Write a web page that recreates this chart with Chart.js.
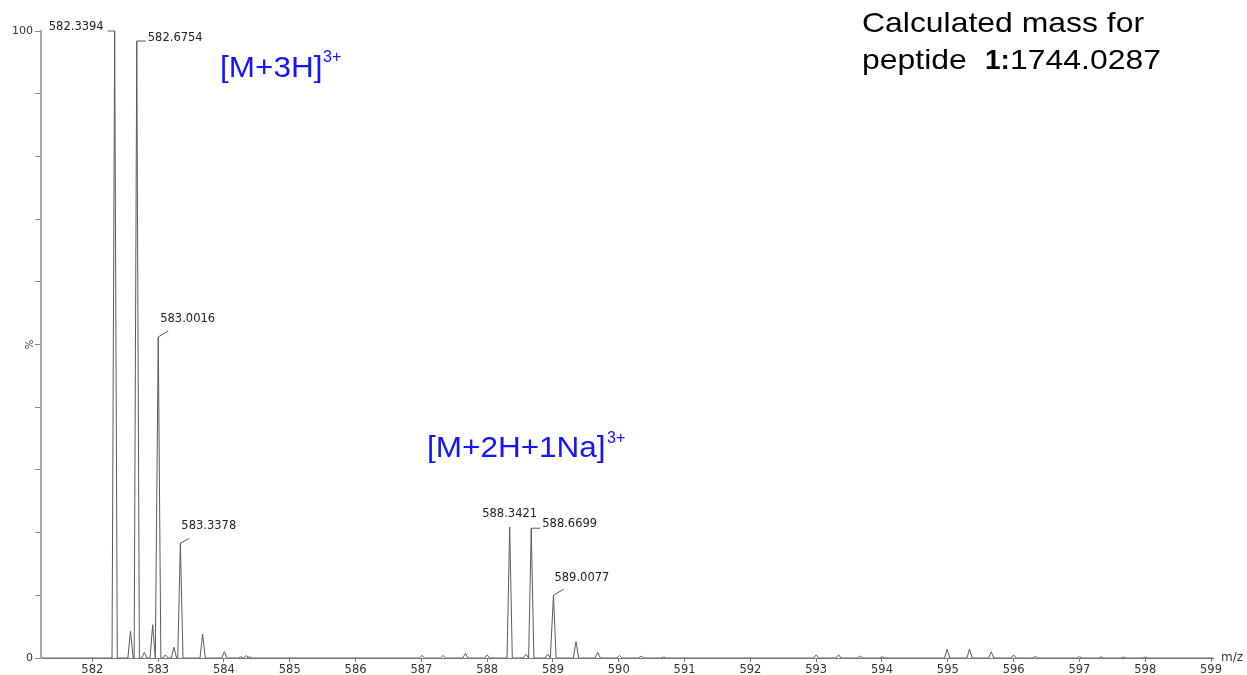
<!DOCTYPE html>
<html>
<head>
<meta charset="utf-8">
<script src="https://cdn.jsdelivr.net/npm/chart.js@4.4.0/dist/chart.umd.min.js"></script>
<style>
  body { margin: 0; background: #fff; }
  canvas { display: block; }
</style>
</head>
<body>
<canvas id="myChart" width="1247" height="675"></canvas>
<script>
// peak centroids (m/z) and relative intensity (%)
const peakMz = [
  582.3394, 582.58, 582.6754, 582.79, 582.917, 583.0016, 583.11, 583.24, 583.3378,
  583.676, 584.006, 584.26, 584.34, 584.39,
  587.01, 587.33, 587.67, 588.0, 588.3421, 588.59, 588.6699, 588.92, 589.0077,
  589.35, 589.68, 590.01, 590.34, 590.68,
  593.0, 593.34, 593.67, 594.0, 594.99, 595.33, 595.66, 596.0, 596.33,
  597.0, 597.33, 597.67, 598.0
];
const peakIntensity = [
  100, 4.3, 98.4, 0.9, 5.3, 51.2, 0.5, 1.7, 18.3,
  3.8, 1.0, 0.2, 0.4, 0.2,
  0.4, 0.4, 0.75, 0.5, 20.9, 0.6, 20.7, 0.6, 10.0,
  2.6, 0.9, 0.4, 0.3, 0.15,
  0.5, 0.5, 0.3, 0.2, 1.4, 1.4, 1.0, 0.5, 0.25,
  0.25, 0.2, 0.15, 0.15
];
// labelled peaks
const labelMz = [582.3394, 582.6754, 583.0016, 583.3378, 588.3421, 588.6699, 589.0077];
const labelText = ['582.3394', '582.6754', '583.0016', '583.3378', '588.3421', '588.6699', '589.0077'];

const xTicks = [582, 583, 584, 585, 586, 587, 588, 589, 590, 591, 592, 593, 594, 595, 596, 597, 598, 599];
const yTicks = [0, 10, 20, 30, 40, 50, 60, 70, 80, 90, 100];

const xMin = 581.22, xMax = 599.03;
const halfWidth = 0.04;

// build profile line from the centroids (triangle per peak)
const profile = [{x: xMin, y: 0}];
peakMz.forEach((mz, i) => {
  profile.push({x: mz - halfWidth, y: 0});
  profile.push({x: mz, y: peakIntensity[i]});
  profile.push({x: mz + halfWidth, y: 0});
});
profile.push({x: xMax, y: 0});

// label placement (pixel offsets from the peak top)
const labelStyle = [
  {lead: [-7, 0], tx: -11, ty: -1.5, align: 'right'},
  {lead: [9, 0], tx: 11, ty: 0, align: 'left'},
  {lead: [10, -6], tx: 2, ty: -14.5, align: 'left'},
  {lead: [9, -5], tx: 1, ty: -14.5, align: 'left'},
  {lead: null, tx: 0, ty: -10, align: 'center'},
  {lead: [9, 0], tx: 11, ty: -1, align: 'left'},
  {lead: [10, -6], tx: 1, ty: -14.5, align: 'left'}
];

// draw text stretched horizontally
function wideText(ctx, text, x, y, sx) {
  ctx.save();
  ctx.translate(x, y);
  ctx.scale(sx, 1);
  ctx.fillText(text, 0, 0);
  ctx.restore();
}

const annotations = {
  id: 'annotations',
  afterDraw(chart) {
    const ctx = chart.ctx;
    const xs = chart.scales.x, ys = chart.scales.y;
    ctx.save();

    // peak labels
    ctx.font = '11.5px "DejaVu Sans"';
    ctx.fillStyle = '#222';
    ctx.strokeStyle = '#555';
    ctx.lineWidth = 1;
    ctx.textBaseline = 'alphabetic';
    labelMz.forEach((mz, i) => {
      const idx = peakMz.indexOf(mz);
      const px = xs.getPixelForValue(mz);
      const py = ys.getPixelForValue(peakIntensity[idx]);
      const s = labelStyle[i];
      if (s.lead) {
        ctx.beginPath();
        ctx.moveTo(px, py);
        ctx.lineTo(px + s.lead[0], py + s.lead[1]);
        ctx.stroke();
      }
      ctx.textAlign = s.align;
      ctx.fillText(labelText[i], px + s.tx, py + s.ty);
    });

    // y unit, rotated
    ctx.save();
    ctx.translate(30, ys.getPixelForValue(50));
    ctx.rotate(-Math.PI / 2);
    ctx.textAlign = 'center';
    ctx.textBaseline = 'middle';
    ctx.font = '10px "DejaVu Sans"';
    ctx.fillStyle = '#333';
    ctx.fillText('%', 0, 0);
    ctx.restore();

    // axis unit
    ctx.textAlign = 'left';
    ctx.font = '12px "DejaVu Sans"';
    ctx.fillStyle = '#333';
    ctx.fillText('m/z', 1221, 661);

    // charge-state annotations
    ctx.fillStyle = '#1414ff';
    ctx.font = '30px "Liberation Sans"';
    wideText(ctx, '[M+3H]', 220, 77, 1.05);
    wideText(ctx, '[M+2H+1Na]', 427, 457, 1.05);
    ctx.font = '16px "Liberation Sans"';
    ctx.fillText('3+', 323, 62);
    ctx.fillText('3+', 607, 443);

    // calculated mass
    ctx.fillStyle = '#000';
    ctx.font = '28px "Liberation Sans"';
    wideText(ctx, 'Calculated mass for', 862, 32, 1.14);
    wideText(ctx, 'peptide', 862, 69, 1.14);
    wideText(ctx, '1744.0287', 1010, 69, 1.14);
    ctx.font = 'bold 28px "Liberation Sans"';
    wideText(ctx, '1:', 985, 69, 1.0);

    ctx.restore();
  }
};

const data = {
  datasets: [{
    label: 'spectrum',
    data: profile,
    borderColor: '#5a5a5a',
    borderWidth: 1,
    pointRadius: 0,
    tension: 0,
    fill: false
  }]
};

const config = {
  type: 'line',
  data,
  options: {
    responsive: false,
    animation: false,
    parsing: false,
    layout: { padding: { top: 31, right: 34, left: 0, bottom: 0 } },
    plugins: { legend: { display: false }, tooltip: { enabled: false } },
    scales: {
      x: {
        type: 'linear',
        min: xMin,
        max: xMax,
        afterBuildTicks: scale => { scale.ticks = xTicks.map(v => ({value: v})); },
        afterFit: scale => { scale.height = 17; },
        grid: { drawOnChartArea: false, tickLength: 4, color: '#777' },
        border: { color: '#777', width: 1 },
        ticks: {
          autoSkip: false, maxRotation: 0, padding: 1,
          color: '#333', font: { family: 'DejaVu Sans', size: 11.5 },
          callback: v => String(v)
        }
      },
      y: {
        min: 0,
        max: 100,
        afterBuildTicks: scale => { scale.ticks = yTicks.map(v => ({value: v})); },
        afterFit: scale => { scale.width = 41; },
        grid: { drawOnChartArea: false, tickLength: 6, color: '#888' },
        border: { color: '#aaa', width: 2 },
        ticks: {
          autoSkip: false, padding: 2,
          color: '#333', font: { family: 'DejaVu Sans', size: 11 },
          callback: v => v === 100 ? '100' : v === 0 ? '0' : ''
        }
      }
    }
  },
  plugins: [annotations]
};

const myChart = new Chart(document.getElementById('myChart'), config);
</script>
</body>
</html>
